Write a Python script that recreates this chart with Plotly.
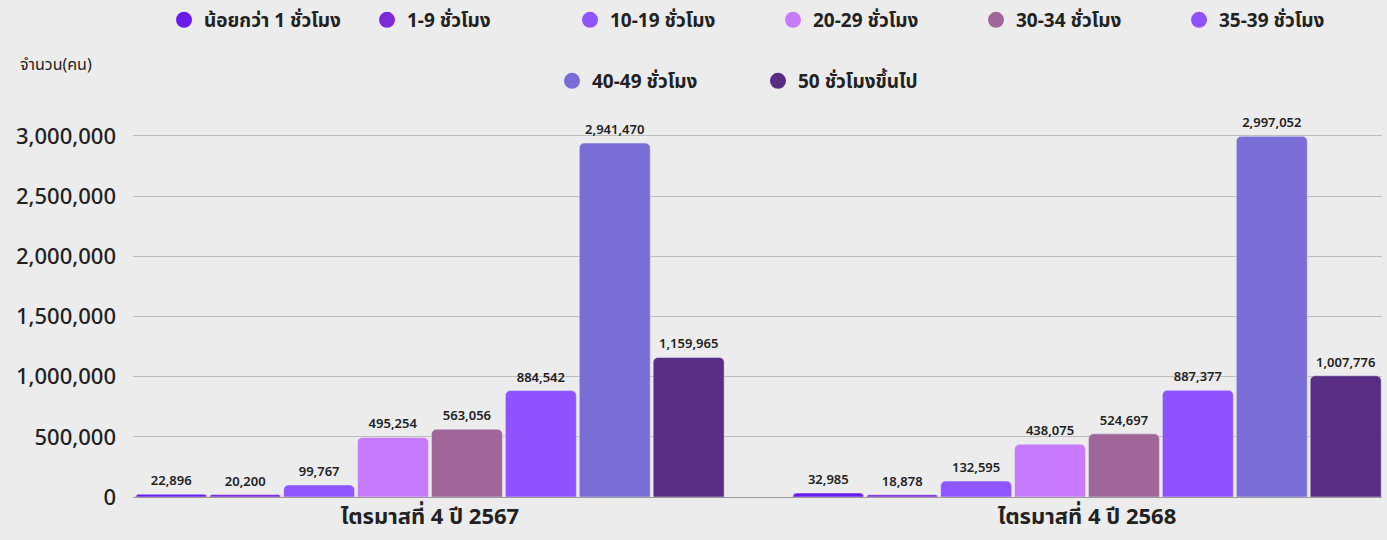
import plotly.graph_objects as go

categories = ["ไตรมาสที่ 4 ปี 2567", "ไตรมาสที่ 4 ปี 2568"]
series_names = ["น้อยกว่า 1 ชั่วโมง", "1-9 ชั่วโมง", "10-19 ชั่วโมง", "20-29 ชั่วโมง",
                "30-34 ชั่วโมง", "35-39 ชั่วโมง", "40-49 ชั่วโมง", "50 ชั่วโมงขึ้นไป"]
q4_2567 = [22896, 20200, 99767, 495254, 563056, 884542, 2941470, 1159965]
q4_2568 = [32985, 18878, 132595, 438075, 524697, 887377, 2997052, 1007776]
colors = ["#6A1BE9", "#7D2AD9", "#8F55FF", "#C87AFF", "#A06699", "#8E53FF", "#7A6ED6", "#582D83"]
tick_vals = [0, 500000, 1000000, 1500000, 2000000, 2500000, 3000000]
tick_text = ["0", "500,000", "1,000,000", "1,500,000", "2,000,000", "2,500,000", "3,000,000"]

FONT = "Noto Sans Thai, Noto Sans, Open Sans, sans-serif"

fig = go.Figure()
for i, name in enumerate(series_names):
    vals = [q4_2567[i], q4_2568[i]]
    fig.add_trace(go.Bar(
        x=categories, y=vals, name=name, marker_color=colors[i],
        text=[f"{v:,}" for v in vals], textposition="outside",
        textfont=dict(family=FONT, size=13, color="#222222", weight=600),
        cliponaxis=False, showlegend=False,
    ))
for i, name in enumerate(series_names):
    fig.add_trace(go.Scatter(
        x=[None], y=[None], mode="markers", name=name,
        marker=dict(symbol="circle", size=22, color=colors[i]),
        legend="legend" if i < 6 else "legend2",
    ))

fig.update_layout(
    width=1387, height=540,
    paper_bgcolor="#ECECEC", plot_bgcolor="rgba(0,0,0,0)",
    margin=dict(l=133, r=5, t=110, b=43),
    barmode="group", bargap=0.1, bargroupgap=0.04, barcornerradius=5,
    font=dict(family=FONT, color="#222222"),
    legend=dict(orientation="h", x=164 / 1387, xanchor="left", y=(540 - 20) / 540, yanchor="middle",
                yref="container", xref="container", entrywidth=158, entrywidthmode="pixels",
                font=dict(size=19, weight=700, color="#222222"),
                bgcolor="rgba(0,0,0,0)", itemclick=False),
    legend2=dict(orientation="h", x=552 / 1387, xanchor="left", y=(540 - 81) / 540, yanchor="middle",
                 yref="container", xref="container", entrywidth=161, entrywidthmode="pixels",
                 font=dict(size=19, weight=700, color="#222222"),
                 bgcolor="rgba(0,0,0,0)", itemclick=False),
    xaxis=dict(range=[-0.452, 1.449], showline=True, linecolor="#9a9a9a", linewidth=1,
               tickfont=dict(size=22, weight=700, color="#222222"), ticks=""),
    yaxis=dict(range=[0, 3216000], tickvals=tick_vals, ticktext=tick_text,
               showgrid=True, gridcolor="#BDBDBD", gridwidth=1, zeroline=False,
               tickfont=dict(size=22, weight=500, color="#222222"), ticks="",
               ticklabelstandoff=16),
)
fig.add_annotation(text="จำนวน(คน)", xref="paper", yref="paper",
                   x=-(133 - 18) / 1249, y=(497 - 65) / 387,
                   xanchor="left", yanchor="middle", showarrow=False,
                   font=dict(size=16, color="#222222"))

fig.write_html("out.html", config={"displayModeBar": False},
               post_script="document.body.style.margin='0';")
